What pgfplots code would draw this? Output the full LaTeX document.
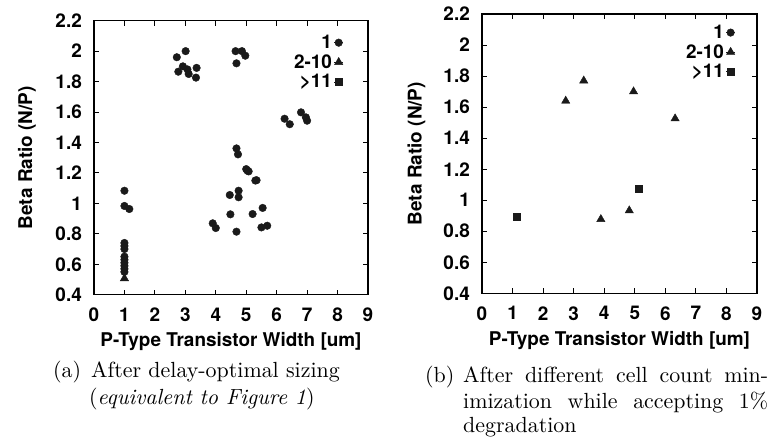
\documentclass[border=0pt]{standalone}
\usepackage{pgfplots}
\pgfplotsset{compat=1.18}
\usepackage{fontspec}
\newfontfamily\hv{TeX Gyre Heros}
\newfontfamily\capfont{lmroman10}[Extension=.otf, UprightFont=*-regular, ItalicFont=*-italic, BoldFont=*-bold]
\definecolor{mk}{HTML}{1A1A1A}
\begin{document}
\begin{tikzpicture}
\useasboundingbox (0bp,0bp) rectangle (780bp,438bp);
\pgfplotsset{
  myax/.style={
    scale only axis, xmin=0,xmax=9,ymin=0.4,ymax=2.2,
    xtick={0,1,2,3,4,5,6,7,8,9},
    ytick={0.4,0.6,0.8,1,1.2,1.4,1.6,1.8,2,2.2},
    tick align=inside, major tick length=5bp,
    axis line style={line width=1.1bp},
    major tick style={black, line width=0.9bp},
    tick label style={font=\hv\bfseries\fontsize{19}{21}\selectfont, /pgf/number format/assume math mode=true},
    label style={font=\hv\bfseries\fontsize{19}{22}\selectfont},
    yticklabel style={anchor=east, inner sep=0pt, xshift=-12bp},
    xticklabel style={anchor=north, inner sep=0pt, yshift=-13bp},
    xlabel={P-Type Transistor Width [um]}, ylabel={Beta Ratio (N/P)},
    legend plot pos=right,
    legend image code/.code={\path (0bp,0bp) -- (9bp,0bp); \draw[##1] plot coordinates {(4.5bp,0bp)};},
    legend style={draw=none, fill=none, inner sep=0pt, anchor=north east,
      font=\hv\bfseries\fontsize{19}{21}\selectfont, cells={anchor=east}, row sep=0.5bp},
  },
  circ/.style={only marks, mark=*, mark size=3.8bp, mk, mark options={fill=mk, draw=mk}},
  tri/.style={only marks, mark=triangle*, mark size=4.8bp, mk, mark options={fill=mk, draw=mk}},
  sq/.style={only marks, mark=square*, mark size=3.5bp, mk, mark options={fill=mk, draw=mk}},
}
\begin{axis}[myax, at={(94bp,143.3bp)}, anchor=south west, width=274bp, height=274bp,
  ylabel style={at={(axis description cs:-0.2445,0.5)}, anchor=center},
  xlabel style={at={(axis description cs:0.5,-0.19)}, anchor=base},
  legend style={at={(axis description cs:0.911,0.955)}}]
\addlegendimage{circ}\addlegendentry{1}
\addlegendimage{tri}\addlegendentry{2-10}
\addlegendimage{sq}\addlegendentry{>11}
\addplot[circ, forget plot] coordinates {
(1.0,1.083) (1.0,0.983) (1.16,0.963)
(1.0,0.74) (1.0,0.72) (1.0,0.70) (1.0,0.65) (1.0,0.63) (1.0,0.61) (1.0,0.59) (1.0,0.57) (1.0,0.55)
(2.72,1.96) (3.01,2.0) (2.77,1.865) (2.92,1.90) (3.07,1.88) (3.11,1.85) (3.37,1.89) (3.35,1.826)
(4.65,2.0) (4.86,2.0) (4.68,1.92) (4.97,1.97)
(6.26,1.556) (6.43,1.52) (6.8,1.598) (6.96,1.565) (7.0,1.543)
(4.68,1.361) (4.73,1.322) (5.0,1.225) (5.04,1.215) (5.08,1.21) (5.3,1.15) (5.34,1.152)
(4.46,1.055) (4.75,1.083) (4.75,1.04) (4.48,0.928) (5.21,0.93) (5.54,0.97)
(3.9,0.869) (4.0,0.838) (4.68,0.814) (5.5,0.842) (5.69,0.853)
};
\addplot[tri, forget plot] coordinates {(1.0,0.507)};
\end{axis}
\begin{axis}[myax, at={(482bp,144.7bp)}, anchor=south west, width=275bp, height=279.3bp,
  ylabel style={at={(axis description cs:-0.238,0.5)}, anchor=center},
  xlabel style={at={(axis description cs:0.5,-0.187)}, anchor=base},
  legend style={at={(axis description cs:0.922,0.968)}}]
\addlegendimage{circ}\addlegendentry{1}
\addlegendimage{tri}\addlegendentry{2-10}
\addlegendimage{sq}\addlegendentry{>11}
\addplot[tri, forget plot] coordinates {(2.74,1.64) (3.33,1.77) (4.96,1.70) (6.32,1.526) (3.89,0.877) (4.82,0.933)};
\addplot[sq, forget plot] coordinates {(1.13,0.892) (5.14,1.077)};
\end{axis}
\begin{scope}[every node/.style={inner sep=0pt, anchor=base west, font=\capfont\fontsize{22}{26}\selectfont}]
\node at (53bp,60bp) {(a)};
\node at (91bp,60bp) {After delay-optimal sizing};
\node at (89bp,34bp) {(\textit{equivalent to Figure 1})};
\node at (425bp,55bp) {(b)};
\node at (463bp,55bp) {\makebox[305bp][s]{After different cell count min-}};
\node at (463bp,30bp) {\makebox[305bp][s]{imization while accepting 1\%}};
\node at (463bp,6bp) {degradation};
\end{scope}
\end{tikzpicture}
\end{document}
